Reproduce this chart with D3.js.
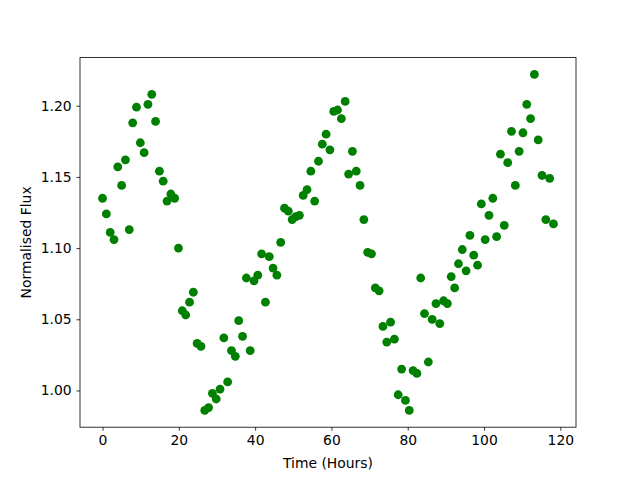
<!DOCTYPE html>
<html>
<head>
<meta charset="utf-8">
<script src="https://cdn.jsdelivr.net/npm/d3@7"></script>
<style>
  body { margin: 0; background: #fff; }
  svg { display: block; font-family: "DejaVu Sans", sans-serif; }
</style>
</head>
<body>
<svg id="chart" width="640" height="480"></svg>
<script>
// time of each observation (hours)
const timeHours = [
  0.0, 1.0, 2.0, 3.0, 4.0, 5.0, 6.0, 7.0, 7.9, 8.9,
  9.9, 10.9, 11.9, 12.9, 13.9, 14.9, 15.9, 16.9, 17.9, 18.9,
  19.9, 20.9, 21.8, 22.8, 23.8, 24.8, 25.8, 26.8, 27.8, 28.8,
  29.8, 30.8, 31.8, 32.8, 33.8, 34.8, 35.7, 36.7, 37.7, 38.7,
  39.7, 40.7, 41.7, 42.7, 43.7, 44.7, 45.7, 46.7, 47.7, 48.7,
  49.7, 50.6, 51.6, 52.6, 53.6, 54.6, 55.6, 56.6, 57.6, 58.6,
  59.6, 60.6, 61.6, 62.6, 63.6, 64.5, 65.5, 66.5, 67.5, 68.5,
  69.5, 70.5, 71.5, 72.5, 73.5, 74.5, 75.5, 76.5, 77.5, 78.4,
  79.4, 80.4, 81.4, 82.4, 83.4, 84.4, 85.4, 86.4, 87.4, 88.4,
  89.4, 90.4, 91.4, 92.3, 93.3, 94.3, 95.3, 96.3, 97.3, 98.3,
  99.3, 100.3, 101.3, 102.3, 103.3, 104.3, 105.3, 106.2, 107.2, 108.2,
  109.2, 110.2, 111.2, 112.2, 113.2, 114.2, 115.2, 116.2, 117.2, 118.2
];

// normalised flux
const flux = [
  1.135, 1.124, 1.111, 1.106, 1.157, 1.144, 1.162, 1.113, 1.188, 1.199,
  1.174, 1.167, 1.201, 1.208, 1.189, 1.154, 1.147, 1.133, 1.138, 1.135,
  1.100, 1.056, 1.053, 1.062, 1.069, 1.033, 1.031, 0.986, 0.988, 0.998,
  0.994, 1.001, 1.037, 1.006, 1.028, 1.024, 1.049, 1.038, 1.079, 1.028,
  1.077, 1.081, 1.096, 1.062, 1.094, 1.086, 1.081, 1.104, 1.128, 1.126,
  1.120, 1.122, 1.123, 1.137, 1.141, 1.154, 1.133, 1.161, 1.173, 1.180,
  1.169, 1.196, 1.197, 1.191, 1.203, 1.152, 1.168, 1.154, 1.144, 1.120,
  1.097, 1.096, 1.072, 1.070, 1.045, 1.034, 1.048, 1.036, 0.997, 1.015,
  0.993, 0.986, 1.014, 1.012, 1.079, 1.054, 1.020, 1.050, 1.061, 1.047,
  1.063, 1.061, 1.080, 1.072, 1.089, 1.099, 1.084, 1.109, 1.095, 1.088,
  1.131, 1.106, 1.123, 1.135, 1.108, 1.166, 1.116, 1.160, 1.182, 1.144,
  1.168, 1.181, 1.201, 1.191, 1.222, 1.176, 1.151, 1.120, 1.149, 1.117
];

const xTicks = [0, 20, 40, 60, 80, 100, 120];
const yTicks = [1.00, 1.05, 1.10, 1.15, 1.20];

const points = timeHours.map((t, i) => ({ time: t, flux: flux[i] }));

const width = 640;
const height = 480;
const margin = { top: 57.6, right: 64, bottom: 52.8, left: 80 };

const svg = d3.select("#chart");

// matplotlib-style 5% padding around the data
const xExt = d3.extent(timeHours);
const yExt = d3.extent(flux);
const xPad = (xExt[1] - xExt[0]) * 0.05;
const yPad = (yExt[1] - yExt[0]) * 0.05;

const x = d3.scaleLinear()
  .domain([xExt[0] - xPad, xExt[1] + xPad])
  .range([margin.left, width - margin.right]);

const y = d3.scaleLinear()
  .domain([yExt[0] - yPad, yExt[1] + yPad])
  .range([height - margin.bottom, margin.top]);

svg.append("g")
  .selectAll("circle")
  .data(points)
  .join("circle")
  .attr("cx", d => x(d.time))
  .attr("cy", d => y(d.flux))
  .attr("r", 4.4)
  .attr("fill", "#008000");

const xAxis = svg.append("g")
  .attr("transform", `translate(0,${height - margin.bottom})`)
  .call(d3.axisBottom(x).tickValues(xTicks).tickFormat(d3.format("d"))
    .tickSize(3.5).tickPadding(4.9));

const yAxis = svg.append("g")
  .attr("transform", `translate(${margin.left},0)`)
  .call(d3.axisLeft(y).tickValues(yTicks).tickFormat(d3.format(".2f"))
    .tickSize(3.5).tickPadding(4.9));

[xAxis, yAxis].forEach(g => {
  g.select(".domain").remove();
  g.selectAll(".tick line").attr("stroke", "#000").attr("stroke-width", 0.8);
  g.selectAll(".tick text")
    .attr("fill", "#000")
    .style("font-size", "13.9px")
    .style("font-family", "DejaVu Sans, sans-serif");
});

// frame
svg.append("rect")
  .attr("x", margin.left)
  .attr("y", margin.top)
  .attr("width", width - margin.left - margin.right)
  .attr("height", height - margin.top - margin.bottom)
  .attr("fill", "none")
  .attr("stroke", "#000")
  .attr("stroke-width", 0.8);

svg.append("text")
  .attr("x", margin.left + (width - margin.left - margin.right) / 2)
  .attr("y", 468)
  .attr("text-anchor", "middle")
  .style("font-size", "13.9px")
  .text("Time (Hours)");

svg.append("text")
  .attr("transform", `translate(31,${margin.top + (height - margin.top - margin.bottom) / 2}) rotate(-90)`)
  .attr("text-anchor", "middle")
  .style("font-size", "13.9px")
  .text("Normalised Flux");
</script>
</body>
</html>
